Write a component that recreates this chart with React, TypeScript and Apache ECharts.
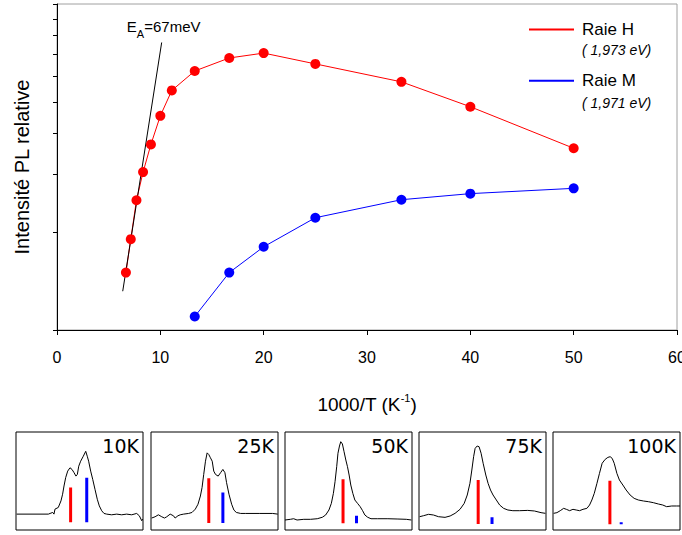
import React, { useEffect, useRef } from 'react';
import * as echarts from 'echarts';

// ---- main plot data ----
const invT_H = [6.67, 7.14, 7.69, 8.33, 9.09, 10, 11.11, 13.33, 16.67, 20, 25, 33.33, 40, 50];
const raieH = [1.5, 1.9, 2.5, 3.05, 3.71, 4.54, 5.43, 6.23, 6.83, 7.07, 6.55, 5.77, 4.84, 3.61];
const invT_M = [13.33, 16.67, 20, 25, 33.33, 40, 50];
const raieM = [1.1, 1.5, 1.8, 2.21, 2.51, 2.62, 2.72];
const fitX = [6.36, 10.13];
const fitY = [1.315, 7.62];
const yTickValues = [1, 2, 3, 4, 5, 6, 7, 8, 9, 10];

// ---- small spectra panels ----
const panelLabels = ['10K', '25K', '50K', '75K', '100K'];
const spec10K = [[0.5,16.2],[25.5,16.2],[26.8,16.9],[28.9,17.9],[29.9,16.2],[30.7,21.3],[33.3,23],[35.4,29.7],[36.7,36.5],[37.8,44.9],[39.1,53.4],[40.7,60.1],[42.5,63.5],[44.1,61.8],[45.7,58.5],[47.2,55],[48.3,56.7],[49.4,65.1],[50.9,70.2],[53,75.3],[54.9,80.3],[56.1,75.3],[57.2,70.2],[58.8,60.1],[60.4,51.7],[62.2,41.5],[64,31.4],[65.6,24.6],[67.5,19.6],[69.3,16.9],[71.4,16.2],[75.3,15.5],[79.3,16.2],[83.2,15.5],[87.1,16.2],[91.1,15.5],[95,16.9],[97.1,14.5],[99,9.5],[99.7,11.2]];
const spec25K = [[0.5,12.2],[3.2,13.5],[5.8,15.5],[8.5,13.5],[10.6,12.2],[12.4,13.5],[15.1,16.2],[17.7,14.5],[19,12.2],[21.2,14.5],[23,15.5],[25.7,16.2],[29.6,16.9],[32.3,17.9],[34.9,21.3],[37,26.3],[38.9,34.7],[40.2,43.3],[41.5,56.7],[42.9,70.2],[44.2,78.7],[45.5,77],[46.8,73.7],[48.2,70.2],[49.4,60.1],[50.8,56.7],[52.9,55],[54.8,58.5],[56.6,61.8],[58.2,58.5],[59.5,48.3],[61.4,36.5],[63.5,26.3],[65.3,20.3],[67.2,17.9],[70.6,16.9],[74.6,16.9],[85.2,16.9],[95.8,16.9],[99.8,16.2]];
const spec50K = [[0,10.2],[4.2,10.9],[6.8,11.5],[9.5,10.2],[14.8,10.9],[20.1,10.9],[25.4,11.5],[29.4,13],[32,15.3],[34.6,20.4],[36.5,27.2],[38.1,37.4],[39.4,49.3],[40.7,64.6],[41.7,78.3],[42.9,85.7],[43.9,90.1],[45.2,87.8],[46.5,79.9],[47.9,71.4],[49.2,64.6],[50.5,56.1],[51.8,45.9],[53.4,37.4],[55,30.6],[57.1,27.2],[59.2,23.8],[61.1,19.7],[62.9,15.3],[65.1,13],[67.7,11.5],[73,11.5],[81,11.5],[88.9,11.2],[95.5,10.9],[99.5,10.2]];
const spec75K = [[0.5,13.6],[3.6,14.6],[7.5,16],[11.4,15.3],[15.3,13.6],[20.5,12.9],[24.5,14.3],[28.4,17],[32.3,21.1],[35.6,27.2],[38,35.7],[40.1,47.6],[41.6,61.2],[43,74.8],[44.2,83.3],[45.8,85.7],[47.3,85],[48.9,78.3],[50.5,68.1],[52.6,56.1],[54.4,47.6],[56.3,40.8],[58.3,35.7],[60.9,30.6],[63.5,25.5],[66.6,22.1],[70,20.4],[73.9,19.7],[79.1,19.7],[85.6,20],[90.9,19.4],[96.1,17.7],[99.5,17]];
const spec100K = [[0.5,17],[3.1,17.7],[5.7,19.7],[8.4,22.1],[10.5,21.1],[13.1,19.7],[15.7,21.1],[18.3,20.4],[20.9,19.7],[23.6,21.1],[26.7,22.1],[28.8,25.5],[30.6,30.6],[32.5,37.4],[34.6,47.6],[36.6,57.8],[38.7,68.1],[41.1,72.1],[43.2,74.1],[45,74.8],[46.6,73.1],[48.2,68.1],[50.3,57.8],[52.3,51],[55,45.9],[57.6,40.8],[60.7,35.7],[63.9,32.3],[67.2,30.6],[71.2,29.6],[75.1,28.9],[79,27.9],[83,26.5],[86.4,25.5],[89.5,23.8],[93.5,24.5],[97.4,24.5],[100,24.5]];
const spectra = [spec10K, spec25K, spec50K, spec75K, spec100K];
const redBarPos = [43, 45.5, 45.7, 46.6, 44.8];
const redBarTop = [43.3, 52.7, 51.7, 51, 50.3];
const blueBarPos = [55.7, 56.6, 56.3, 57.5, 53.7];
const blueBarTop = [53.4, 38.2, 14.6, 13, 7.8];
const barBase = [7.8, 7.1, 6.8, 6.1, 5.8];

const FONT = "'Liberation Sans', Arial, sans-serif";
const panelLeft = [16, 151, 285, 419, 553];
const PW = 127;
const PT = 432;
const PH = 98;

export default function App() {
  const ref = useRef<HTMLDivElement>(null);
  useEffect(() => {
    if (!ref.current) return;
    const chart = echarts.init(ref.current, null, { renderer: 'svg' });

    const grid: any[] = [
      { left: 57, right: 5, top: 4, bottom: 205, show: true, borderColor: '#a0a0a0', borderWidth: 1, containLabel: false, outerBoundsMode: 'none' },
    ];
    const xAxis: any[] = [
      {
        gridIndex: 0, type: 'value', min: 0, max: 60, interval: 10,
        axisLine: { show: true, onZero: false, lineStyle: { color: '#000', width: 1 } },
        axisTick: { show: true, inside: false, length: 5, lineStyle: { color: '#000' } },
        axisLabel: { color: '#000', fontSize: 16, margin: 19, fontFamily: FONT },
        splitLine: { show: false },
        name: '{n|1000/T (K}{s|-1}{n|)}',
        nameLocation: 'middle',
        nameGap: 62,
        nameTextStyle: {
          rich: {
            n: { fontSize: 19, fontFamily: FONT, color: '#000', lineHeight: 22, verticalAlign: 'bottom' },
            s: { fontSize: 11, fontFamily: FONT, color: '#000', lineHeight: 11, verticalAlign: 'top' },
          },
        },
      },
    ];
    const yAxis: any[] = [
      {
        gridIndex: 0, type: 'log', logBase: 10, min: 1, max: 10,
        axisLine: { show: true, lineStyle: { color: '#000', width: 1 } },
        axisTick: { show: true, inside: false, length: 4, customValues: yTickValues, lineStyle: { color: '#000' } },
        axisLabel: { show: false },
        splitLine: { show: false },
        minorTick: { show: false },
        name: 'Intensité PL relative',
        nameLocation: 'middle',
        nameGap: 25,
        nameTextStyle: { fontSize: 20, color: '#000', fontFamily: FONT },
      },
    ];
    const series: any[] = [
      {
        name: 'Raie H', type: 'line', xAxisIndex: 0, yAxisIndex: 0,
        data: invT_H.map((x, i) => [x, raieH[i]]),
        color: '#ff0000', symbol: 'circle', symbolSize: 10,
        lineStyle: { width: 1, color: '#ff0000' }, itemStyle: { color: '#ff0000' },
      },
      {
        name: 'Raie M', type: 'line', xAxisIndex: 0, yAxisIndex: 0,
        data: invT_M.map((x, i) => [x, raieM[i]]),
        color: '#0000ff', symbol: 'circle', symbolSize: 10,
        lineStyle: { width: 1, color: '#0000ff' }, itemStyle: { color: '#0000ff' },
      },
      {
        name: 'fit', type: 'line', xAxisIndex: 0, yAxisIndex: 0,
        color: '#000', symbol: 'circle', symbolSize: 0, showSymbol: true,
        lineStyle: { width: 1, color: '#000' },
        data: [
          { value: [fitX[0], fitY[0]] },
          {
            value: [fitX[1], fitY[1]],
            label: {
              show: true, position: 'top', distance: 3, offset: [2, 0],
              formatter: '{e|E}{s|A}{e|=67meV}',
              rich: {
                e: { fontSize: 15, fontFamily: FONT, color: '#000', lineHeight: 20, verticalAlign: 'top' },
                s: { fontSize: 11, fontFamily: FONT, color: '#000', lineHeight: 11, verticalAlign: 'bottom' },
              },
            },
          },
        ],
      },
    ];

    const graphic: any[] = [
      { type: 'text', x: 582, y: 50, style: { text: '( 1,973 eV)', fill: '#000', font: 'italic 14px ' + FONT, textVerticalAlign: 'middle', verticalAlign: 'middle' } },
      { type: 'text', x: 582, y: 103, style: { text: '( 1,971 eV)', fill: '#000', font: 'italic 14px ' + FONT, textVerticalAlign: 'middle', verticalAlign: 'middle' } },
    ];

    panelLeft.forEach((left, i) => {
      const gi = i + 1;
      grid.push({ left, top: PT, width: PW, height: PH, show: true, borderColor: '#000', borderWidth: 1, outerBoundsMode: 'none' });
      xAxis.push({ gridIndex: gi, type: 'value', min: 0, max: 100, show: false });
      yAxis.push({ gridIndex: gi, type: 'value', min: 0, max: 100, show: false });
      series.push({
        type: 'line', xAxisIndex: gi, yAxisIndex: gi, data: spectra[i], symbol: 'none',
        lineStyle: { color: '#000', width: 1 }, color: '#000', silent: true,
      });
      series.push({
        type: 'line', xAxisIndex: gi, yAxisIndex: gi, symbol: 'none', silent: true,
        data: [[redBarPos[i], barBase[i]], [redBarPos[i], redBarTop[i]]],
        lineStyle: { color: '#ff0000', width: 3, cap: 'butt' }, color: '#ff0000',
      });
      series.push({
        type: 'line', xAxisIndex: gi, yAxisIndex: gi, symbol: 'none', silent: true,
        data: [[blueBarPos[i], barBase[i]], [blueBarPos[i], blueBarTop[i]]],
        lineStyle: { color: '#0000ff', width: 3, cap: 'butt' }, color: '#0000ff',
      });
      graphic.push({
        type: 'text', x: left + PW - 4, y: 445.5,
        style: {
          text: panelLabels[i], fill: '#000', font: "19px 'DejaVu Sans', sans-serif",
          textAlign: 'right', align: 'right', textVerticalAlign: 'middle', verticalAlign: 'middle',
        },
      });
    });

    const legendCommon = {
      orient: 'vertical', left: 529, padding: 0, icon: 'rect', itemWidth: 45, itemHeight: 2,
      textStyle: { fontSize: 17, color: '#000', fontFamily: FONT, lineHeight: 20, padding: [0, 0, 0, 3] },
      selectedMode: false,
    };

    chart.setOption({
      animation: false,
      backgroundColor: '#fff',
      textStyle: { fontFamily: FONT },
      grid, xAxis, yAxis, series, graphic,
      legend: [
        { ...legendCommon, top: 19.5, data: ['Raie H'] },
        { ...legendCommon, top: 70.7, data: ['Raie M'] },
      ],
    });
    return () => chart.dispose();
  }, []);
  return <div ref={ref} style={{ position: 'absolute', left: 0, top: 0, width: 682, height: 535 }} />;
}
